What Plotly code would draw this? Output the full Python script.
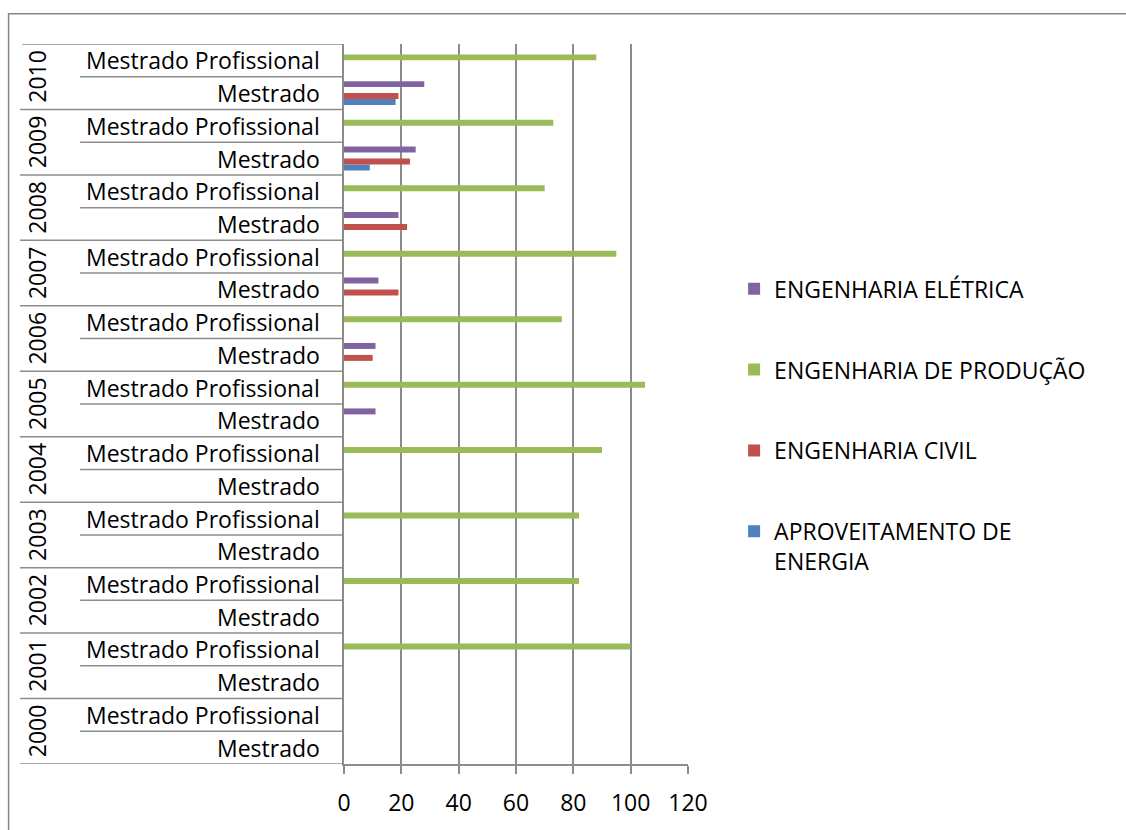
import plotly.graph_objects as go

years = ["2000", "2001", "2002", "2003", "2004", "2005", "2006", "2007", "2008", "2009", "2010"]
types = ["Mestrado", "Mestrado Profissional"]

# values per year: (Mestrado, Mestrado Profissional)
aproveitamento = {"Mestrado": [0, 0, 0, 0, 0, 0, 0, 0, 0, 9, 18],
                  "Mestrado Profissional": [0, 0, 0, 0, 0, 0, 0, 0, 0, 0, 0]}
civil = {"Mestrado": [0, 0, 0, 0, 0, 0, 10, 19, 22, 23, 19],
         "Mestrado Profissional": [0, 0, 0, 0, 0, 0, 0, 0, 0, 0, 0]}
producao = {"Mestrado": [0, 0, 0, 0, 0, 0, 0, 0, 0, 0, 0],
            "Mestrado Profissional": [0, 100, 82, 82, 90, 105, 76, 95, 70, 73, 88]}
eletrica = {"Mestrado": [0, 0, 0, 0, 0, 11, 11, 12, 19, 25, 28],
            "Mestrado Profissional": [0, 0, 0, 0, 0, 0, 0, 0, 0, 0, 0]}

series = [
    ("APROVEITAMENTO DE<br>ENERGIA", aproveitamento, "#4F81BD"),
    ("ENGENHARIA CIVIL", civil, "#C0504D"),
    ("ENGENHARIA DE PRODUÇÃO", producao, "#9BBB59"),
    ("ENGENHARIA ELÉTRICA", eletrica, "#8064A2"),
]

cats = []
for y in years:
    for t in types:
        cats.append(f"{y} {t}")

FONT = "Open Sans"
FS = 23
fig = go.Figure()
for i, (name, d, color) in enumerate(series):
    xs = []
    for k in range(len(years)):
        for t in types:
            xs.append(d[t][k])
    fig.add_trace(go.Bar(y=cats, x=xs, orientation="h", name=name,
                         marker=dict(color=color, line=dict(width=0)),
                         legendgroup=f"g{i}", legendrank=len(series) - i))

annotations = []
shapes = []
for k, y in enumerate(years):
    for j, t in enumerate(types):
        annotations.append(dict(x=0, xref="paper", y=f"{y} {t}", yref="y",
                                text=t, showarrow=False, xanchor="right",
                                xshift=-22, font=dict(size=FS, color="black", family=FONT)))
    annotations.append(dict(x=0, xref="paper", y=2 * k + 0.5, yref="y",
                            text=y, showarrow=False, textangle=-90,
                            xanchor="center", xshift=-307,
                            font=dict(size=FS, color="black", family=FONT)))
    # inner divider
    shapes.append(dict(type="line", xref="paper", yref="y", x0=-0.767, x1=0,
                       y0=2 * k + 0.5, y1=2 * k + 0.5,
                       line=dict(color="#8c8c8c", width=1.5)))
    # year divider
    shapes.append(dict(type="line", xref="paper", yref="y", x0=-0.942, x1=0,
                       y0=2 * k - 0.5, y1=2 * k - 0.5,
                       line=dict(color="#8c8c8c", width=1.5)))
shapes.append(dict(type="line", xref="paper", yref="y", x0=-0.936, x1=0,
                   y0=len(cats) - 0.5, y1=len(cats) - 0.5,
                   line=dict(color="#8c8c8c", width=1.5)))
# outer chart border
shapes.append(dict(type="path", xref="paper", yref="paper",
                   path="M -0.975,-0.1 L -0.975,1.042 L 2.3,1.042",
                   line=dict(color="#868686", width=1.5)))

fig.update_layout(
    width=1126, height=830,
    margin=dict(l=344, r=438, t=44, b=55),
    paper_bgcolor="white", plot_bgcolor="white",
    barmode="group", bargap=0.27, bargroupgap=0,
    font=dict(family=FONT, size=FS, color="black"),
    xaxis=dict(range=[0, 120], dtick=20, tick0=0, showgrid=True,
               gridcolor="#8c8c8c", gridwidth=2, zeroline=False,
               showline=True, linecolor="#8c8c8c", linewidth=1.5,
               ticks="outside", ticklen=8, tickcolor="#8c8c8c", tickwidth=1.5,
               ticklabelstandoff=10,
               tickfont=dict(size=FS, family=FONT, color="black")),
    yaxis=dict(type="category", categoryorder="array", categoryarray=cats,
               range=[-0.5, len(cats) - 0.5], showticklabels=False,
               showgrid=False, zeroline=False, showline=True,
               linecolor="#8c8c8c", linewidth=1.5, ticks=""),
    legend=dict(x=1.134, y=0.69, xanchor="left", yanchor="top",
                traceorder="grouped", tracegroupgap=48, valign="top",
                font=dict(size=FS, family=FONT, color="black"),
                bgcolor="rgba(0,0,0,0)"),
    annotations=annotations, shapes=shapes,
)

fig.write_html(
    "out.html",
    config={"displayModeBar": False},
    post_script="document.documentElement.style.margin='0';"
                "document.body.style.margin='0';"
                "document.body.style.overflow='hidden';"
                "document.documentElement.style.overflow='hidden';",
)
